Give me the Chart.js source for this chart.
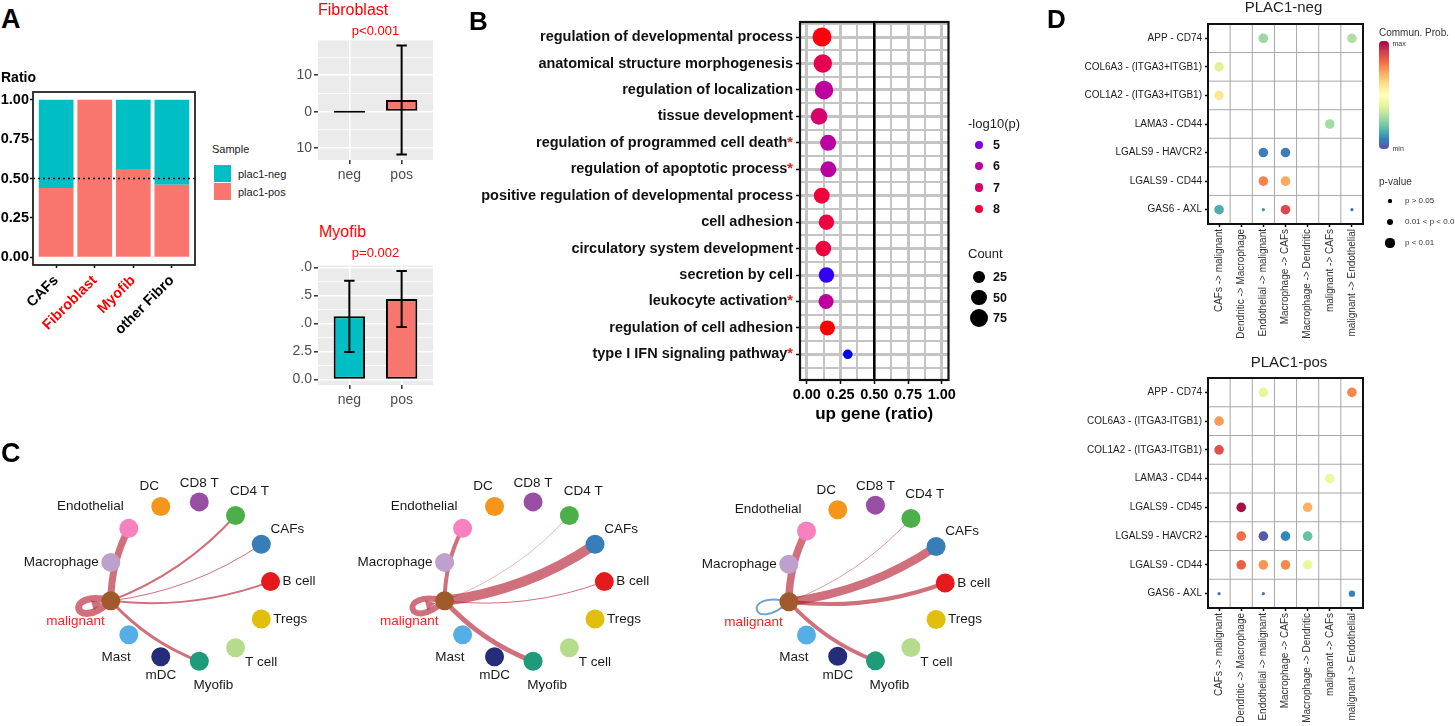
<!DOCTYPE html>
<html>
<head>
<meta charset="utf-8">
<title>PLAC1 figure</title>
<script src="https://cdn.jsdelivr.net/npm/chart.js@4.4.1/dist/chart.umd.min.js"></script>
<style>
  body { margin: 0; background: #fff; }
  #page { position: relative; width: 1455px; height: 726px; overflow: hidden; font-family: 'Liberation Sans', Arial, sans-serif; }
  canvas, .clip { position: absolute; }
  .clip { overflow: hidden; }
  .txt { position: absolute; white-space: nowrap; line-height: 1; }
  .sw { position: absolute; }
</style>
</head>
<body>
<div id="page">
  <canvas id="ratioChart" width="210" height="280" style="left:0;top:60px"></canvas>
  <canvas id="fibroChart" width="155" height="160" style="left:290px;top:30px"></canvas>
  <canvas id="myoChart" width="155" height="160" style="left:290px;top:255px"></canvas>
  <canvas id="goChart" width="520" height="430" style="left:450px;top:0"></canvas>
  <canvas id="net1" width="330" height="286" style="left:0;top:440px"></canvas>
  <canvas id="net2" width="330" height="286" style="left:330px;top:440px"></canvas>
  <canvas id="net3" width="340" height="286" style="left:660px;top:440px"></canvas>
  <div class="clip" style="left:1000px;top:0;width:455px;height:341px">
    <canvas id="lrNeg" width="455" height="370" style="left:0;top:0"></canvas>
  </div>
  <canvas id="lrPos" width="455" height="386" style="left:1000px;top:340px"></canvas>
</div>
<script>
// ---- A: ratio of samples per fibroblast subtype
const ratioCats = ['CAFs', 'Fibroblast', 'Myofib', 'other Fibro'];
const ratioPos = [0.44, 1.00, 0.56, 0.46];
const ratioNeg = [0.56, 0.00, 0.44, 0.54];
const ratioTicks = [0, 0.25, 0.5, 0.75, 1];
const ratioRef = 0.5;

// ---- A: bar + error bar panels
const groupCats = ['neg', 'pos'];
const fibroMean = [0, 3.2];
const fibroSd = [0, 15];
const fibroTicks = [-10, -5, 0, 5, 10, 15];
const myoMean = [5.65, 7.2];
const myoSd = [3.18, 2.5];
const myoTicks = [0, 1.25, 2.5, 3.75, 5, 6.25, 7.5, 8.75, 10];

// ---- B: GO terms
const goTerms = [
  'regulation of developmental process',
  'anatomical structure morphogenesis',
  'regulation of localization',
  'tissue development',
  'regulation of programmed cell death*',
  'regulation of apoptotic process*',
  'positive regulation of developmental process',
  'cell adhesion',
  'circulatory system development',
  'secretion by cell',
  'leukocyte activation*',
  'regulation of cell adhesion',
  'type I IFN signaling pathway*'
];
const goRatio = [0.113, 0.119, 0.128, 0.091, 0.158, 0.160, 0.111, 0.146, 0.123, 0.146, 0.143, 0.153, 0.304];
const goLogP = [8.5, 7.5, 6.1, 7.0, 6.0, 6.0, 7.9, 7.8, 7.8, 4.4, 6.1, 8.6, 4.3];
const goCount = [81, 75, 76, 59, 54, 54, 53, 50, 51, 50, 47, 47, 15];
const goRatioTicks = [0, 0.125, 0.25, 0.375, 0.5, 0.625, 0.75, 0.875, 1];
const goLegendP = [5, 6, 7, 8];
const goLegendCount = [25, 50, 75];

// ---- C: cell-cell communication networks
const cellTypes = ['B cell', 'CAFs', 'CD4 T', 'CD8 T', 'DC', 'Endothelial', 'Macrophage',
  'malignant', 'Mast', 'mDC', 'Myofib', 'T cell', 'Tregs'];
const edgeFrom = ['malignant', 'Endothelial', 'malignant', 'malignant', 'malignant', 'malignant'];
const edgeTo = ['malignant', 'malignant', 'CD4 T', 'CAFs', 'B cell', 'Myofib'];
const net1Strength = [0.7, 0.7, 0.2, 0.1, 0.2, 0.3];
const net2Strength = [0.6, 0.4, 0.05, 1.0, 0.1, 0.5];
const net3Strength = [0.2, 0.75, 0.07, 0.85, 0.4, 0.4];
const net1Sign = [1, 1, 1, 1, 1, 1];
const net2Sign = [1, 1, 1, 1, 1, 1];
const net3Sign = [-1, 1, 1, 1, 1, 1];

// ---- D: ligand-receptor bubbles
const pairCols = ['CAFs -> malignant', 'Dendritic -> Macrophage', 'Endothelial -> malignant',
  'Macrophage -> CAFs', 'Macrophage -> Dendritic', 'malignant -> CAFs', 'malignant -> Endothelial'];
const negRows = ['APP - CD74', 'COL6A3 - (ITGA3+ITGB1)', 'COL1A2 - (ITGA3+ITGB1)', 'LAMA3 - CD44',
  'LGALS9 - HAVCR2', 'LGALS9 - CD44', 'GAS6 - AXL'];
const negRow = [0, 0, 1, 2, 3, 4, 4, 5, 5, 6, 6, 6, 6];
const negCol = [2, 6, 0, 0, 5, 2, 3, 2, 3, 0, 2, 3, 6];
const negProb = [0.28, 0.31, 0.39, 0.58, 0.29, 0.08, 0.08, 0.77, 0.71, 0.16, 0.12, 0.88, 0.06];
const negPval = [3, 3, 3, 3, 3, 3, 3, 3, 3, 3, 1, 3, 1];
const posRows = ['APP - CD74', 'COL6A3 - (ITGA3-ITGB1)', 'COL1A2 - (ITGA3-ITGB1)', 'LAMA3 - CD44',
  'LGALS9 - CD45', 'LGALS9 - HAVCR2', 'LGALS9 - CD44', 'GAS6 - AXL'];
const posRow = [0, 0, 1, 2, 3, 4, 4, 5, 5, 5, 5, 6, 6, 6, 6, 7, 7, 7];
const posCol = [2, 6, 0, 0, 5, 1, 4, 1, 2, 3, 4, 1, 2, 3, 4, 0, 2, 6];
const posProb = [0.41, 0.76, 0.73, 0.86, 0.43, 0.98, 0.69, 0.80, 0.02, 0.10, 0.20, 0.83, 0.74, 0.76, 0.42, 0.06, 0.06, 0.09];
const posPval = [3, 3, 3, 3, 3, 3, 3, 3, 3, 3, 3, 3, 3, 3, 3, 1, 1, 2];
const pvalLabels = ['p > 0.05', '0.01 < p < 0.05', 'p < 0.01'];

// ---- styles
const FONT = "'Liberation Sans', Arial, sans-serif";
const TEAL = '#00BFC4', SALMON = '#F8766D';
const ratioCatColors = ['#000', '#FF0000', '#FF0000', '#000'];
const cellColors = ['#E41A1C', '#377EB8', '#4DAF4A', '#984EA3', '#F3961A', '#F781BF', '#BEA0CD',
  '#A0592A', '#55AFE6', '#232D78', '#1E9B78', '#B4DC8C', '#E1BE0A'];
const pvalRadius = { 1: 1.6, 2: 3.2, 3: 4.8 };
const spectralStops = ['#5E4FA2', '#3288BD', '#66C2A5', '#ABDDA4', '#E6F598', '#FFFFBF',
  '#FEE08B', '#FDAE61', '#F46D43', '#D53E4F', '#9E0142'];

Chart.defaults.font.family = FONT;
Chart.defaults.animation = false;
Chart.defaults.responsive = false;
Chart.defaults.plugins.legend.display = false;
Chart.defaults.plugins.tooltip.enabled = false;

// colour helpers
function hexToRgb(h) { return [1, 3, 5].map(i => parseInt(h.substr(i, 2), 16)); }
function rgbToLab(rgb) {
  const [r, g, b] = rgb.map(v => { v /= 255; return v > 0.04045 ? Math.pow((v + 0.055) / 1.055, 2.4) : v / 12.92; });
  let x = (r * 0.4124 + g * 0.3576 + b * 0.1805) / 0.95047;
  let y = r * 0.2126 + g * 0.7152 + b * 0.0722;
  let z = (r * 0.0193 + g * 0.1192 + b * 0.9505) / 1.08883;
  const f = t => t > 0.008856 ? Math.cbrt(t) : 7.787 * t + 16 / 116;
  x = f(x); y = f(y); z = f(z);
  return [116 * y - 16, 500 * (x - y), 200 * (y - z)];
}
function labToRgb([L, a, b]) {
  let y = (L + 16) / 116, x = a / 500 + y, z = y - b / 200;
  const fi = t => t * t * t > 0.008856 ? t * t * t : (t - 16 / 116) / 7.787;
  x = fi(x) * 0.95047; y = fi(y); z = fi(z) * 1.08883;
  const r = x * 3.2406 - y * 1.5372 - z * 0.4986;
  const g = -x * 0.9689 + y * 1.8758 + z * 0.0415;
  const bb = x * 0.0557 - y * 0.2040 + z * 1.0570;
  return [r, g, bb].map(v => {
    v = v > 0.0031308 ? 1.055 * Math.pow(v, 1 / 2.4) - 0.055 : 12.92 * v;
    return Math.round(Math.max(0, Math.min(1, v)) * 255);
  });
}
const blueLab = rgbToLab([0, 0, 255]), redLab = rgbToLab([255, 0, 0]);
const pMin = Math.min(...goLogP), pMax = Math.max(...goLogP);
function pColor(v) {
  const t = (v - pMin) / (pMax - pMin);
  const lab = blueLab.map((c, i) => c + (redLab[i] - c) * t);
  return 'rgb(' + labToRgb(lab).join(',') + ')';
}
function spectral(t) {
  const n = spectralStops.length, p = t * (n - 1);
  const i = Math.min(Math.floor(p), n - 2), f = p - i;
  const a = hexToRgb(spectralStops[i]), b = hexToRgb(spectralStops[i + 1]);
  return 'rgb(' + a.map((c, k) => Math.round(c + (b[k] - c) * f)).join(',') + ')';
}
function countRadius(n) { return 1.15 + 0.93 * Math.sqrt(n); }

// shared plugins
function framePlugin(color, width) {
  return { id: 'frame', afterDraw(chart) {
    const a = chart.chartArea, c = chart.ctx;
    c.save(); c.strokeStyle = color; c.lineWidth = width;
    c.strokeRect(a.left, a.top, a.right - a.left, a.bottom - a.top);
    c.restore();
  } };
}
function panelBg(color) {
  return { id: 'panelBg', beforeDraw(chart) {
    const a = chart.chartArea, c = chart.ctx;
    c.save(); c.fillStyle = color;
    c.fillRect(a.left, a.top, a.right - a.left, a.bottom - a.top);
    c.restore();
  } };
}
const NONE = 'rgba(0,0,0,0)';

// ================= A: stacked ratio =================
new Chart(document.getElementById('ratioChart'), {
  type: 'bar',
  data: {
    datasets: [
      { label: 'plac1-pos', data: ratioPos.map((v, i) => ({ x: i + 1, y: v })), backgroundColor: SALMON },
      { label: 'plac1-neg', data: ratioNeg.map((v, i) => ({ x: i + 1, y: v })), backgroundColor: TEAL }
    ]
  },
  options: {
    layout: { padding: { left: 0, right: 15, top: 32, bottom: 0 } },
    datasets: { bar: { barPercentage: 0.9, categoryPercentage: 1 } },
    scales: {
      x: {
        type: 'linear', stacked: true, offset: false, min: 0.4, max: 4.6,
        afterBuildTicks: s => { s.ticks = ratioCats.map((c, i) => ({ value: i + 1 })); },
        afterFit: s => { s.height = 75; },
        border: { display: false },
        grid: { offset: false, drawOnChartArea: false, tickLength: 3, tickColor: '#000', tickWidth: 1.5 },
        ticks: { callback: v => ratioCats[v - 1], color: ctx => ratioCatColors[ctx.index],
          font: { size: 14.5, weight: 'bold' }, minRotation: 45, maxRotation: 45, padding: 4, autoSkip: false }
      },
      y: {
        stacked: true, min: -0.05, max: 1.05,
        afterBuildTicks: s => { s.ticks = ratioTicks.map(v => ({ value: v })); },
        afterFit: s => { s.width = 33; },
        border: { display: false },
        grid: { drawOnChartArea: false, tickLength: 3, tickColor: '#000', tickWidth: 1.5 },
        ticks: { callback: v => v.toFixed(2), color: '#000', font: { size: 14.5, weight: 'bold' }, padding: 1 }
      }
    }
  },
  plugins: [{
    id: 'refLine',
    afterDatasetsDraw(chart) {
      const a = chart.chartArea, c = chart.ctx, y = chart.scales.y.getPixelForValue(ratioRef);
      c.save(); c.strokeStyle = '#000'; c.lineWidth = 1.5; c.setLineDash([2, 3]);
      c.beginPath(); c.moveTo(a.left, y); c.lineTo(a.right, y); c.stroke(); c.restore();
    }
  }, framePlugin('#222', 1.8)]
});

// ================= A: bar + error bars =================
function errorBarPlugin(means, sds) {
  return { id: 'errorBars', afterDatasetsDraw(chart) {
    const x = chart.scales.x, y = chart.scales.y, c = chart.ctx;
    c.save(); c.strokeStyle = '#000'; c.lineWidth = 2;
    means.forEach((m, i) => {
      if (!sds[i]) return;
      const px = x.getPixelForValue(i + 1);
      const hw = x.getPixelForValue(1.1) - x.getPixelForValue(1);
      const y1 = y.getPixelForValue(m - sds[i]), y2 = y.getPixelForValue(m + sds[i]);
      c.beginPath();
      c.moveTo(px, y1); c.lineTo(px, y2);
      c.moveTo(px - hw, y1); c.lineTo(px + hw, y1);
      c.moveTo(px - hw, y2); c.lineTo(px + hw, y2);
      c.stroke();
    });
    c.restore();
  } };
}
function groupBarChart(id, means, sds, yMin, yMax, yTicks, isMajor, yLabel) {
  return new Chart(document.getElementById(id), {
    type: 'bar',
    data: { datasets: [{
      data: means.map((v, i) => ({ x: i + 1, y: v })),
      backgroundColor: [TEAL, SALMON], borderColor: '#000', borderWidth: 2, borderSkipped: false,
      barPercentage: 0.6, categoryPercentage: 1, minBarLength: 2
    }] },
    options: {
      layout: { padding: { left: 0, right: 12, top: 10, bottom: 0 } },
      scales: {
        x: {
          type: 'linear', offset: false, min: 0.4, max: 2.6,
          afterBuildTicks: s => { s.ticks = groupCats.map((c, i) => ({ value: i + 1 })); },
          afterFit: s => { s.height = 30; },
          border: { display: false },
          grid: { offset: false, color: '#fff', lineWidth: 1.6, tickLength: 4, tickColor: '#333', tickWidth: 1.5 },
          ticks: { callback: v => groupCats[v - 1], color: '#4D4D4D', font: { size: 14 }, padding: 3, autoSkip: false, maxRotation: 0 }
        },
        y: {
          min: yMin, max: yMax,
          afterBuildTicks: s => { s.ticks = yTicks.map(v => ({ value: v })); },
          afterFit: s => { s.width = 28; },
          border: { display: false },
          grid: { color: '#fff', lineWidth: c => isMajor(c.tick.value) ? 1.6 : 0.8, tickLength: 4,
            tickColor: c => isMajor(c.tick.value) ? '#333' : NONE, tickWidth: 1.5 },
          ticks: { callback: v => isMajor(v) ? yLabel(v) : '', color: '#4D4D4D', font: { size: 14 }, padding: 2, autoSkip: false }
        }
      }
    },
    plugins: [panelBg('#EBEBEB'), errorBarPlugin(means, sds)]
  });
}
groupBarChart('fibroChart', fibroMean, fibroSd, -13.3, 19.6, fibroTicks,
  v => v % 10 === 0, v => String(Math.abs(v)));
groupBarChart('myoChart', myoMean, myoSd, -0.49, 10.2, myoTicks,
  v => v % 2.5 === 0, v => { const s = v.toFixed(1); return v >= 5 ? s.slice(-2) : s; });

// ================= B: GO dot plot =================
const goFont = { size: 14.5, weight: 'bold' };
new Chart(document.getElementById('goChart'), {
  type: 'bubble',
  data: { datasets: [{
    data: goTerms.map((t, i) => ({ x: goRatio[i], y: i + 1, r: countRadius(goCount[i]) })),
    backgroundColor: goLogP.map(pColor), borderWidth: 0
  }] },
  options: {
    layout: { padding: { left: 0, right: 21.5, top: 22, bottom: 0 } },
    scales: {
      x: {
        min: -0.05, max: 1.05,
        afterBuildTicks: s => { s.ticks = goRatioTicks.map(v => ({ value: v })); },
        afterFit: s => { s.height = 50; },
        border: { display: false },
        grid: { color: '#C4C4C4', lineWidth: c => (c.tick.value * 4) % 1 === 0 ? 3 : 2, tickLength: 4,
          tickColor: c => (c.tick.value * 4) % 1 === 0 ? '#000' : NONE, tickWidth: 1.5 },
        ticks: { callback: v => (v * 4) % 1 === 0 ? v.toFixed(2) : '', color: '#000', font: goFont, padding: 2, maxRotation: 0, autoSkip: false },
        title: { display: true, text: 'up gene (ratio)', color: '#000', font: { size: 17, weight: 'bold' }, padding: { top: 0, bottom: 5 } }
      },
      y: {
        reverse: true, min: 0.43, max: 13.97,
        afterBuildTicks: s => { const t = []; for (let v = 0.5; v <= 13.5; v += 0.5) t.push({ value: v }); s.ticks = t; },
        afterFit: s => { s.width = 350; },
        border: { display: false },
        grid: { color: '#C4C4C4', lineWidth: c => Number.isInteger(c.tick.value) ? 3 : 2, tickLength: 4,
          tickColor: c => Number.isInteger(c.tick.value) ? '#000' : NONE, tickWidth: 1.5 },
        ticks: { callback: v => Number.isInteger(v) ? goTerms[v - 1] : '', color: '#111', font: goFont, padding: 3, autoSkip: false }
      }
    }
  },
  plugins: [{
    id: 'halfLine',
    beforeDatasetsDraw(chart) {
      const a = chart.chartArea, c = chart.ctx, x = chart.scales.x.getPixelForValue(0.5);
      c.save(); c.strokeStyle = '#000'; c.lineWidth = 2.5;
      c.beginPath(); c.moveTo(x, a.top); c.lineTo(x, a.bottom); c.stroke(); c.restore();
    }
  }, framePlugin('#111', 2.2), {
    id: 'redStars',
    afterDraw(chart) {
      const s = chart.scales.y, c = chart.ctx;
      const x = chart.chartArea.left - 4 - 3;
      c.save(); c.font = 'bold 14.5px ' + FONT; c.textAlign = 'right'; c.textBaseline = 'middle';
      const w = c.measureText('*').width;
      goTerms.forEach((t, i) => {
        if (!t.endsWith('*')) return;
        const y = s.getPixelForValue(i + 1);
        c.fillStyle = '#fff'; c.fillRect(x - w, y - 9, w + 0.5, 18);
        c.fillStyle = '#E41A1C'; c.fillText('*', x, y);
      });
      c.restore();
    }
  }]
});

// ================= C: networks =================
function nodeAngle(name) { return 2 * Math.PI * cellTypes.indexOf(name) / cellTypes.length; }
function edgePlugin(strength, sign) {
  return { id: 'edges', beforeDatasetsDraw(chart) {
    const c = chart.ctx, sx = chart.scales.x, sy = chart.scales.y;
    const pos = n => { const a = nodeAngle(n); return [sx.getPixelForValue(Math.cos(a)), sy.getPixelForValue(Math.sin(a)), a]; };
    c.save(); c.lineCap = 'round';
    edgeFrom.forEach((f, k) => {
      const s = strength[k];
      if (!s) return;
      const col = sign[k] > 0 ? 'rgba(178,24,43,0.62)' : 'rgba(33,102,172,0.62)';
      c.strokeStyle = col; c.fillStyle = col; c.lineWidth = s * 10;
      const [x1, y1, a] = pos(f), [x2, y2] = pos(edgeTo[k]);
      c.beginPath();
      if (f === edgeTo[k]) {
        const ox = Math.cos(a), oy = -Math.sin(a), px = -oy, py = ox;
        const L = 44, W = 24;
        c.moveTo(x1, y1);
        c.bezierCurveTo(x1 + ox * L + px * W, y1 + oy * L + py * W, x1 + ox * L - px * W, y1 + oy * L - py * W, x1, y1);
        c.stroke();
        if (s >= 0.3) {
          c.beginPath();
          c.moveTo(x1 + ox * 9, y1 + oy * 9);
          c.lineTo(x1 + ox * 19 + px * 5, y1 + oy * 19 + py * 5);
          c.lineTo(x1 + ox * 19 - px * 5, y1 + oy * 19 - py * 5);
          c.closePath(); c.fill();
        }
      } else {
        const dx = x2 - x1, dy = y2 - y1;
        c.moveTo(x1, y1);
        c.quadraticCurveTo((x1 + x2) / 2 - dy * 0.12, (y1 + y2) / 2 + dx * 0.12, x2, y2);
        c.stroke();
      }
    });
    c.restore();
  } };
}
// labels sit next to each node, spread over a full turn like igraph's label.degree
const nodeLabels = { id: 'nodeLabels', afterDatasetsDraw(chart) {
  const c = chart.ctx, sx = chart.scales.x, sy = chart.scales.y;
  const n = cellTypes.length;
  c.save(); c.font = '13.5px ' + FONT; c.textAlign = 'center'; c.textBaseline = 'middle';
  cellTypes.forEach((name, i) => {
    const a = nodeAngle(name);
    const nx = sx.getPixelForValue(Math.cos(a)), ny = sy.getPixelForValue(Math.sin(a));
    const phi = 2 * Math.PI * i / (n - 1), ux = Math.cos(phi), uy = -Math.sin(phi);
    const w = c.measureText(name).width;
    const d = 12 + Math.abs(ux) * w / 2 + Math.abs(uy) * 7;
    c.fillStyle = name === 'malignant' ? '#FF2020' : '#1A1A1A';
    c.fillText(name, nx + ux * d, ny + uy * d);
  });
  c.restore();
} };
function networkChart(id, left, top, w, h, cx, cy, R, strength, sign) {
  return new Chart(document.getElementById(id), {
    type: 'scatter',
    data: { datasets: [{
      data: cellTypes.map(n => ({ x: Math.cos(nodeAngle(n)), y: Math.sin(nodeAngle(n)) })),
      pointRadius: 9.5, pointBackgroundColor: cellColors, pointBorderWidth: 0
    }] },
    options: {
      layout: { padding: 0 },
      scales: {
        x: { display: false, min: -(cx - left) / R, max: (left + w - cx) / R },
        y: { display: false, min: -(top + h - cy) / R, max: (cy - top) / R }
      }
    },
    plugins: [edgePlugin(strength, sign), nodeLabels]
  });
}
networkChart('net1', 0, 440, 330, 286, 191, 581.5, 86, net1Strength, net1Sign);
networkChart('net2', 330, 440, 330, 286, 525, 581.5, 86, net2Strength, net2Sign);
networkChart('net3', 660, 440, 340, 286, 868, 583, 84, net3Strength, net3Sign);

// ================= D: ligand-receptor bubbles =================
const cellGrid = { id: 'cellGrid', beforeDatasetsDraw(chart) {
  const a = chart.chartArea, c = chart.ctx, sx = chart.scales.x, sy = chart.scales.y;
  c.save(); c.strokeStyle = '#A8A8A8'; c.lineWidth = 1;
  c.beginPath();
  for (let i = 0; i < sx.getLabels().length - 1; i++) {
    const x = (sx.getPixelForValue(i) + sx.getPixelForValue(i + 1)) / 2;
    c.moveTo(x, a.top); c.lineTo(x, a.bottom);
  }
  for (let i = 0; i < sy.getLabels().length - 1; i++) {
    const y = (sy.getPixelForValue(i) + sy.getPixelForValue(i + 1)) / 2;
    c.moveTo(a.left, y); c.lineTo(a.right, y);
  }
  c.stroke(); c.restore();
} };
function lrChart(id, rows, dRow, dCol, dProb, dPval, padTop, xHeight) {
  return new Chart(document.getElementById(id), {
    type: 'bubble',
    data: { datasets: [{
      data: dRow.map((r, i) => ({ x: pairCols[dCol[i]], y: rows[r], r: pvalRadius[dPval[i]] })),
      backgroundColor: dProb.map(spectral), borderWidth: 0
    }] },
    options: {
      layout: { padding: { left: 0, right: 92, top: padTop, bottom: 0 } },
      scales: {
        x: {
          type: 'category', labels: pairCols, offset: true,
          afterFit: s => { s.height = xHeight; },
          border: { display: false },
          grid: { drawOnChartArea: false, tickLength: 3, tickColor: '#000', tickWidth: 1.5 },
          ticks: { color: '#333', font: { size: 10 }, minRotation: 90, maxRotation: 90, padding: 2, autoSkip: false }
        },
        y: {
          type: 'category', labels: rows, offset: true,
          afterFit: s => { s.width = 208; },
          border: { display: false },
          grid: { drawOnChartArea: false, tickLength: 3, tickColor: '#000', tickWidth: 1.5 },
          ticks: { color: '#222', font: { size: 10 }, padding: 3, autoSkip: false }
        }
      }
    },
    plugins: [cellGrid, framePlugin('#111', 2)]
  });
}
lrChart('lrNeg', negRows, negRow, negCol, negProb, negPval, 24, 146);
lrChart('lrPos', posRows, posRow, posCol, posProb, posPval, 38, 118);

// ================= titles, legends, panel letters =================
const page = document.getElementById('page');
function addText(text, x, y, o) {
  o = o || {};
  const d = document.createElement('div');
  d.className = 'txt';
  d.textContent = text;
  d.style.left = x + 'px'; d.style.top = y + 'px';
  d.style.fontSize = (o.size || 12) + 'px';
  d.style.fontWeight = o.bold ? 'bold' : 'normal';
  d.style.color = o.color || '#222';
  const tx = o.align === 'center' ? '-50%' : o.align === 'right' ? '-100%' : '0';
  d.style.transform = 'translate(' + tx + ',-50%)';
  page.appendChild(d);
}
function addSwatch(x, y, w, h, bg, round) {
  const d = document.createElement('div');
  d.className = 'sw';
  d.style.left = x + 'px'; d.style.top = y + 'px'; d.style.width = w + 'px'; d.style.height = h + 'px';
  d.style.background = bg;
  if (round) d.style.borderRadius = round;
  page.appendChild(d);
}
function addDot(x, y, r, color) { addSwatch(x - r, y - r, 2 * r, 2 * r, color, '50%'); }

addText('A', 1, 19, { size: 27, bold: true, color: '#000' });
addText('B', 469, 21, { size: 26, bold: true, color: '#000' });
addText('C', 1, 453, { size: 27, bold: true, color: '#000' });
addText('D', 1047, 19, { size: 26, bold: true, color: '#000' });

// A
addText('Ratio', 1, 77, { size: 14, bold: true, color: '#000' });
addText('Sample', 212, 149, { size: 11, color: '#222' });
addSwatch(214, 164.5, 17, 17, TEAL);
addSwatch(214, 183, 17, 17, SALMON);
addText('plac1-neg', 238, 173.5, { size: 11, color: '#222' });
addText('plac1-pos', 238, 192, { size: 11, color: '#222' });
addText('Fibroblast', 318, 10, { size: 16, color: '#FF0000' });
addText('p<0.001', 375.5, 30, { size: 13, color: '#FF0000', align: 'center' });
addText('Myofib', 319, 232, { size: 16, color: '#FF0000' });
addText('p=0.002', 375.5, 252, { size: 13, color: '#FF0000', align: 'center' });

// B legends
addText('-log10(p)', 968, 123, { size: 13, color: '#222' });
goLegendP.forEach((v, i) => {
  const y = 145 + i * 21.3;
  addDot(979, y, 4.2, pColor(v));
  addText(String(v), 993, y, { size: 12.5, bold: true, color: '#111' });
});
addText('Count', 968, 253, { size: 13, color: '#222' });
goLegendCount.forEach((v, i) => {
  const y = 277 + i * 20.5;
  addDot(979, y, countRadius(v), '#000');
  addText(String(v), 993, y, { size: 12.5, bold: true, color: '#111' });
});

// D titles and legends
addText('PLAC1-neg', 1283.5, 6, { size: 15, color: '#222', align: 'center' });
addText('PLAC1-pos', 1289, 361, { size: 15, color: '#222', align: 'center' });
addText('Commun. Prob.', 1379, 32.5, { size: 10, color: '#333' });
addSwatch(1379, 40.5, 9.5, 108, 'linear-gradient(to top,' + spectralStops.join(',') + ')', '4px');
addText('max', 1392.5, 43, { size: 7, color: '#333' });
addText('min', 1392.5, 148, { size: 7, color: '#333' });
addText('p-value', 1379, 181.5, { size: 10, color: '#333' });
pvalLabels.forEach((t, i) => {
  const y = 201 + i * 21;
  addDot(1390, y, pvalRadius[i + 1] * 0.95, '#000');
  addText(t, 1405, y, { size: 8, color: '#333' });
});
</script>
</body>
</html>
